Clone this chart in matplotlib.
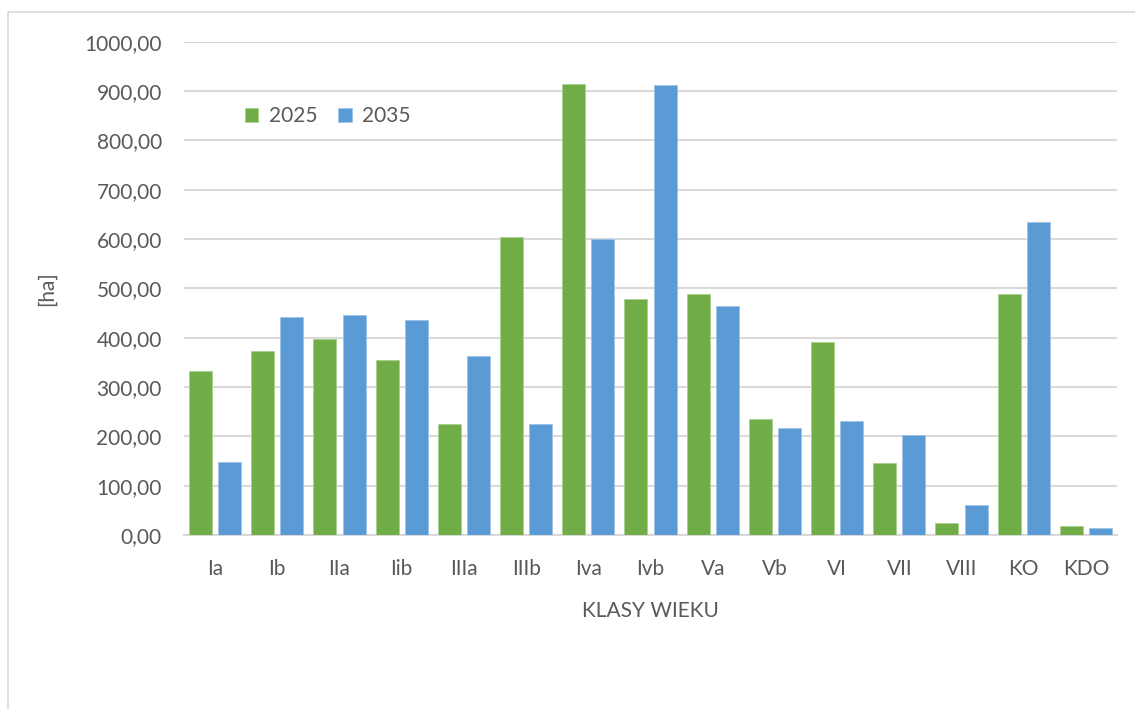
import numpy as np
import matplotlib
matplotlib.use("Agg")
import matplotlib.pyplot as plt
from matplotlib.patches import Rectangle
from matplotlib.ticker import FuncFormatter

klasy = ["Ia", "Ib", "IIa", "Iib", "IIIa", "IIIb", "Iva", "Ivb",
         "Va", "Vb", "VI", "VII", "VIII", "KO", "KDO"]
rok_2025 = [332, 374, 397, 354, 225, 605, 915, 479, 488, 236, 391, 146, 24, 489, 19]
rok_2035 = [147, 442, 445, 435, 362, 225, 601, 912, 465, 217, 231, 202, 60, 635, 14]

plt.rcParams['font.family'] = ['Lato', 'DejaVu Sans']
szary = '#595959'
fs = 15

fig = plt.figure(figsize=(11.35, 7.09), dpi=100)
fig.patches.append(Rectangle((8 / 1135, -0.1), 1.2, 1 - 12 / 709 + 0.1,
                             transform=fig.transFigure, fill=False,
                             edgecolor='#d9d9d9', lw=1.2))
ax = fig.add_axes([184 / 1135, 1 - 535 / 709, 933 / 1135, (535 - 41.7) / 709])

x = np.arange(len(klasy))
w = 0.37
ax.bar(x - 0.235, rok_2025, w, color='#70AD47', edgecolor='#a9d08e', lw=0.6, label='2025', zorder=3)
ax.bar(x + 0.235, rok_2035, w, color='#5B9BD5', edgecolor='#9dc3e6', lw=0.6, label='2035', zorder=3)

ax.set_xlim(-0.5, len(klasy) - 0.5)
ax.set_ylim(0, 1000)
ax.set_yticks(np.arange(0, 1001, 100))
ax.yaxis.set_major_formatter(FuncFormatter(lambda v, p: f"{v:.2f}".replace('.', ',')))
ax.set_xticks(x)
ax.set_xticklabels(klasy)
ax.grid(axis='y', color='#d9d9d9', lw=1.5, zorder=0)
for s in ['top', 'right', 'left']:
    ax.spines[s].set_visible(False)
ax.spines['bottom'].set_color('#d9d9d9')
ax.spines['bottom'].set_linewidth(1.5)
ax.tick_params(axis='both', length=0, colors=szary, labelsize=fs)
ax.tick_params(axis='y', pad=16)
ax.tick_params(axis='x', pad=17)

ax.set_xlabel('KLASY WIEKU', color=szary, fontsize=fs, labelpad=16)
ax.set_ylabel('[ha]', color=szary, fontsize=fs, labelpad=20)

ax.legend(loc='upper left', bbox_to_anchor=(0.045, 0.907), ncol=2, frameon=False,
          fontsize=fs, labelcolor=szary, handlelength=0.65, handleheight=0.65,
          handletextpad=0.5, columnspacing=1.0)

fig.savefig('out.png', dpi=100)
